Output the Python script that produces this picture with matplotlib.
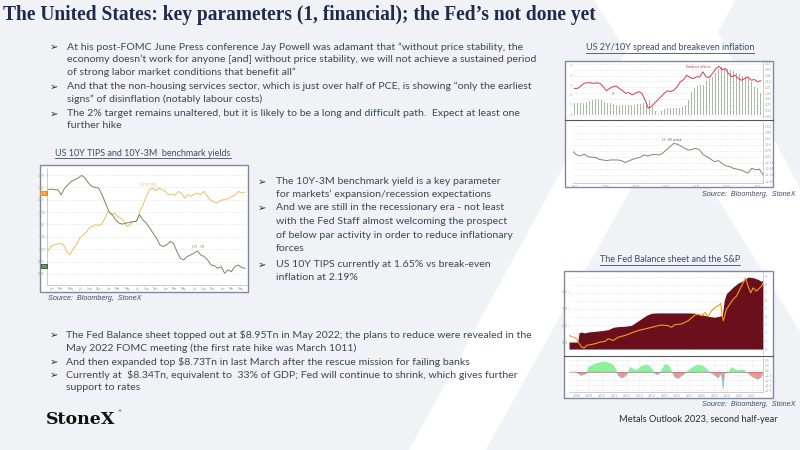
import numpy as np
import matplotlib.pyplot as plt
from matplotlib.patches import Polygon, Rectangle

W, H = 800, 450

# ---- left chart: US 10Y TIPS (orange) and 10Y-3M benchmark (green)
tips = [1.00, 1.15, 1.20, 1.22, 1.25, 1.20, 1.00, 0.90, 1.08, 1.20, 1.40, 1.48, 1.55, 1.70, 1.75, 1.80,
        1.78, 1.82, 2.00, 2.20, 2.10, 2.15, 2.05, 2.00, 1.90, 1.75, 1.82, 1.90, 1.92, 2.20, 2.40, 2.65,
        2.85, 2.90, 2.82, 2.90, 2.85, 2.80, 2.70, 2.72, 2.68, 2.80, 2.75, 2.60, 2.70, 2.65, 2.72, 2.75,
        2.70, 2.80, 2.68, 2.55, 2.50, 2.45, 2.50, 2.55, 2.55, 2.60, 2.65, 2.70, 2.80, 2.75, 2.78]
bench = [2.85, 2.87, 2.85, 2.85, 2.70, 2.90, 3.00, 3.10, 3.15, 3.20, 3.28, 3.20, 3.05, 2.95, 2.92, 2.90,
         2.70, 2.45, 2.20, 2.10, 1.95, 1.85, 1.82, 1.85, 1.87, 1.90, 1.90, 2.10, 1.95, 1.85, 1.70, 1.55,
         1.40, 1.20, 1.15, 1.20, 1.30, 1.25, 1.00, 0.80, 0.75, 0.85, 0.90, 0.95, 1.02, 0.90, 0.85, 0.75,
         0.60, 0.58, 0.50, 0.55, 0.35, 0.45, 0.40, 0.55, 0.60, 0.52, 0.50]
left_months = ['Jan', 'Mar', 'May', 'Jul', 'Sep', 'Nov', 'Jan', 'Mar', 'May', 'Jul', 'Sep', 'Nov',
               'Jan', 'Mar', 'May', 'Jul', 'Sep', 'Nov', 'Jan', 'Mar', 'May']

# ---- top right: breakeven inflation (line), 2Y (bars), 2Y-10Y spread (lower panel)
breakeven = [1.68, 1.68, 1.82, 1.98, 2.02, 2.02, 1.98, 2.02, 1.98, 1.78, 1.54, 1.68, 1.78, 1.82, 1.68,
             1.54, 1.39, 1.43, 1.29, 1.39, 1.49, 1.39, 0.99, 0.50, 0.60, 0.80, 0.99, 1.19, 1.39, 1.54,
             1.49, 1.58, 1.78, 2.08, 2.21, 2.47, 2.33, 2.27, 2.37, 2.37, 2.67, 2.37, 2.33, 2.57, 2.86,
             3.00, 2.80, 2.86, 2.57, 2.37, 2.47, 2.27, 2.17, 2.27, 2.37, 2.17, 2.21, 2.08, 2.14]
two_year = [1.17, 1.23, 1.17, 1.23, 1.30, 1.40, 1.50, 1.57, 1.60, 1.50, 1.33, 1.23, 1.17, 1.07, 0.97,
            0.93, 0.97, 0.97, 1.00, 1.03, 1.03, 1.07, 1.10, 1.17, 1.30, 1.50, 0.83, 0.33, 0.10, 0.33,
            0.57, 0.67, 0.70, 0.73, 0.67, 0.67, 0.77, 1.00, 1.50, 2.33, 2.67, 2.90, 2.97, 3.00, 3.40,
            3.57, 3.77, 4.17, 4.67, 4.83, 4.77, 4.67, 4.57, 4.43, 4.23, 4.10, 3.90, 3.77, 3.67, 3.33,
            2.77, 2.67, 2.23]
spread_2y10y = [0.63, 0.38, 0.30, 0.45, 0.25, 0.20, 0.20, 0.05, 0.00, -0.05, 0.00, 0.00, 0.00, -0.05,
                -0.20, -0.08, 0.05, 0.13, 0.20, 0.38, 0.30, 0.38, 0.43, 0.38, 0.50, 0.75, 1.00, 1.25,
                1.20, 1.05, 0.88, 0.75, 0.80, 0.88, 0.75, 0.38, 0.25, 0.05, -0.13, -0.05, -0.25, -0.45,
                -0.50, -0.63, -0.70, -0.75, -0.88, -1.00, -0.63, -0.75, -0.70, -1.13]
tr_years = ['2017', '2018', '2019', '2020', '2021', '2022', '2023']

# ---- bottom right: Fed balance sheet ($Tn, area), S&P 500 (line), lower oscillator
fed_year = [2007.90, 2008.59, 2008.70, 2008.86, 2009.17, 2009.44, 2009.97, 2010.50, 2011.03, 2011.43,
            2011.83, 2012.36, 2012.89, 2013.29, 2013.69, 2014.09, 2014.49, 2015.02, 2015.81, 2016.61,
            2017.41, 2017.94, 2018.47, 2019.00, 2019.53, 2020.06, 2020.14, 2020.28, 2020.46, 2020.73,
            2020.99, 2021.39, 2021.79, 2022.19, 2022.59, 2022.99, 2023.20, 2023.30, 2023.38]
fed_tn = [0.87, 0.87, 2.00, 2.12, 2.00, 2.12, 2.20, 2.29, 2.41, 2.70, 2.79, 2.83, 2.95, 3.37, 3.79,
          4.20, 4.45, 4.49, 4.49, 4.49, 4.49, 4.45, 4.28, 4.08, 3.95, 4.15, 4.20, 6.00, 6.90, 7.30,
          7.70, 8.20, 8.50, 8.95, 8.87, 8.66, 8.45, 8.53, 8.20]
spx_year = [2007.90, 2008.25, 2008.51, 2008.64, 2008.91, 2009.12, 2009.31, 2009.57, 2009.97, 2010.37,
            2010.77, 2011.03, 2011.43, 2011.83, 2012.36, 2012.89, 2013.42, 2013.96, 2014.49, 2015.02,
            2015.28, 2015.81, 2016.08, 2016.35, 2016.88, 2017.41, 2017.94, 2018.21, 2018.47, 2018.74,
            2019.00, 2019.27, 2019.53, 2019.80, 2020.01, 2020.12, 2020.22, 2020.46, 2020.73, 2020.99,
            2021.26, 2021.53, 2021.79, 2021.98, 2022.19, 2022.40, 2022.59, 2022.85, 2023.04, 2023.25,
            2023.38]
spx = [1415, 1318, 1222, 1028, 738, 680, 835, 873, 931, 1028, 1067, 1222, 1125, 1318, 1415, 1570,
       1705, 1802, 1898, 1995, 2034, 1995, 1898, 2053, 2092, 2285, 2614, 2672, 2575, 2769, 2537, 2865,
       3059, 3156, 3310, 2575, 2285, 2962, 3252, 3542, 3736, 4123, 4509, 4800, 4316, 3929, 4219, 4026,
       4161, 4316, 4509]
osc_year = [2008.43, 2008.64, 2008.86, 2009.04, 2009.31, 2009.36, 2009.44, 2009.71, 2009.97, 2010.24,
            2010.50, 2010.77, 2011.03, 2011.30, 2011.57, 2011.70, 2011.83, 2012.10, 2012.36, 2012.57,
            2012.76, 2013.03, 2013.29, 2013.56, 2013.82, 2014.09, 2014.35, 2014.62, 2014.75, 2015.02,
            2015.28, 2015.50, 2015.68, 2015.95, 2016.13, 2016.35, 2016.61, 2016.88, 2017.14, 2017.41,
            2017.67, 2017.94, 2018.21, 2018.47, 2018.74, 2019.00, 2019.27, 2019.53, 2019.80, 2020.06,
            2020.20, 2020.33, 2020.60, 2020.86, 2021.13, 2021.39, 2021.66, 2021.92, 2022.19, 2022.45,
            2022.72, 2022.99, 2023.25, 2023.38]
osc = [0.0, -0.5, -1.0, -0.8, -0.5, 0.0, 1.5, 2.0, 2.5, 2.8, 3.0, 3.2, 2.8, 2.5, 1.5, 0.5, -1.0, -1.8,
       -1.4, -0.5, 1.5, 1.0, 0.5, 1.5, 2.0, 2.2, 1.8, 0.5, -0.5, -0.8, 0.5, 2.0, 2.5, 1.5, 0.0, -1.5,
       -2.0, -1.2, -0.5, 0.5, 1.2, 1.8, 2.2, 2.0, 1.5, 0.5, -0.3, -1.0, -1.8, -0.5, -5.0, -0.3, -0.3,
       1.5, 0.8, 0.5, 0.8, 0.5, -0.3, -1.2, -1.8, -2.2, -1.5, -0.5]
br_years = ['2008', '2009', '2010', '2011', '2012', '2013', '2014', '2015', '2016', '2017',
            '2018', '2019', '2020', '2021', '2022']

# ---- slide text
title = "The United States: key parameters (1, financial); the Fed\u2019s not done yet"
top_lines = [
    (True, "At his post-FOMC June Press conference Jay Powell was adamant that \u201cwithout price stability, the"),
    (False, "economy doesn\u2019t work for anyone [and] without price stability, we will not achieve a sustained period"),
    (False, "of strong labor market conditions that benefit all\u201d"),
    (True, "And that the non-housing services sector, which is just over half of PCE, is showing \u201conly the earliest"),
    (False, "signs\u201d of disinflation (notably labour costs)"),
    (True, "The 2% target remains unaltered, but it is likely to be a long and difficult path.  Expect at least one"),
    (False, "further hike"),
]
mid_lines = [
    (True, "The 10Y-3M benchmark yield is a key parameter"),
    (False, "for markets\u2019 expansion/recession expectations"),
    (True, "And we are still in the recessionary era - not least"),
    (False, "with the Fed Staff almost welcoming the prospect"),
    (False, "of below par activity in order to reduce inflationary"),
    (False, "forces"),
    (True, "US 10Y TIPS currently at 1.65% vs break-even"),
    (False, "inflation at 2.19%"),
]
bot_lines = [
    (True, "The Fed Balance sheet topped out at $8.95Tn in May 2022; the plans to reduce were revealed in the"),
    (False, "May 2022 FOMC meeting (the first rate hike was March 1011)"),
    (True, "And then expanded top $8.73Tn in last March after the rescue mission for failing banks"),
    (True, "Currently at  $8.34Tn, equivalent to  33% of GDP; Fed will continue to shrink, which gives further"),
    (False, "support to rates"),
]

body_font = 'Lato'
body_col = '#3d4759'
navy = '#1f2b4d'

fig = plt.figure(figsize=(8, 4.5), dpi=100)
bg = fig.add_axes([0, 0, 1, 1])
bg.set_xlim(0, W)
bg.set_ylim(H, 0)
bg.axis('off')
bg.add_patch(Rectangle((0, 0), W, H, color='#f0f2f5', zorder=0))
# white strokes of the StoneX "X" watermark
bg.add_patch(Polygon([(410, 450), (485, 450), (735, 0), (655, 0)], color='white', zorder=0.5))
bg.add_patch(Polygon([(595, 0), (700, 0), (800, 190), (800, 330)], color='white', zorder=0.5))


def px_axes(x0, y0, x1, y1):
    a = fig.add_axes([x0 / W, 1 - y1 / H, (x1 - x0) / W, (y1 - y0) / H])
    a.set_zorder(2)
    return a


def style(ax, side='left', bottom=False):
    ax.set_facecolor('none')
    ax.set_axisbelow(True)
    for s in ax.spines.values():
        s.set_visible(False)
    on = [side, 'bottom'] if bottom else [side]
    for k in on:
        ax.spines[k].set_visible(True)
        ax.spines[k].set_color('#b8b8b8')
        ax.spines[k].set_linewidth(0.5)
    ax.tick_params(axis='both', labelsize=2.2, colors='#9a9a9a', length=1, width=0.3, pad=0.5)
    if side == 'right':
        ax.yaxis.tick_right()
    else:
        ax.yaxis.tick_left()
    ax.grid(axis='y', color='#d9d9d9', lw=0.4, ls=(0, (2, 2)))


def twin_left(ax):
    t = ax.twinx()
    t.set_zorder(1)
    t.set_facecolor('none')
    for s in t.spines.values():
        s.set_visible(False)
    t.yaxis.tick_left()
    t.tick_params(labelsize=1.8, colors='#9a9a9a', length=0.8, width=0.3, pad=0.3)
    return t


def frame(x0, y0, x1, y1):
    bg.add_patch(Rectangle((x0, y0), x1 - x0, y1 - y0, facecolor='white',
                           edgecolor='#7d88a3', lw=1.0, zorder=1))


def bullets(lines, ys, xa, xt, size=7.55):
    for (arrow, s), y in zip(lines, ys):
        if arrow:
            bg.text(xa, y, '\u27a2', fontsize=size - 0.3, family='DejaVu Sans', color='#2d2d2d',
                    va='center', ha='left', zorder=3)
        bg.text(xt, y, s, fontsize=size, family=body_font, color=body_col, va='center', ha='left', zorder=3)


underlined = []


def chart_title(x, y, s):
    t = bg.text(x, y, s, fontsize=6.5, family=body_font, color='#3f4b66', ha='center', va='center', zorder=3)
    underlined.append(t)


def source(x, y, s, ha='left'):
    bg.text(x, y, s, fontsize=5.2, family='Liberation Sans', style='italic', color='#3f4b66',
            ha=ha, va='center', zorder=3)


# title and text blocks
bg.text(3, 15, title, fontsize=14.05, family='Liberation Serif', weight='bold', color=navy,
        va='center', ha='left', zorder=3)
bullets(top_lines, [47, 59.5, 72, 86.5, 99, 113.5, 126], 50, 67)
bullets(mid_lines, [182, 194.5, 208, 222, 235, 248.5, 264.5, 278], 258, 276)
bullets(bot_lines, [335, 348, 362, 375, 388], 50, 66)
bg.text(46, 419, 'StoneX', fontsize=12.5, family='DejaVu Serif', weight='bold', color='#111111',
        va='center', ha='left', zorder=3)
bg.text(117, 411, '\u00ae', fontsize=3, color='#111111', va='center', ha='left', zorder=3)
bg.text(778, 419, 'Metals Outlook 2023, second half-year', fontsize=6.7, family=body_font,
        color='#2b2b2b', ha='right', va='center', zorder=3)

# ---- left chart
chart_title(143, 153, 'US 10Y TIPS and 10Y-3M  benchmark yields')
frame(40, 165, 248, 292)
source(48, 299, 'Source:  Bloomberg,  StoneX')
ax = px_axes(47, 168, 247, 285)
style(ax, 'left', bottom=True)
ax.plot(np.linspace(0, 1, len(tips)), tips, color='#f7b960', lw=0.7)
ax.plot(np.linspace(0, 1, len(bench)), bench, color='#6f8c5e', lw=0.7)
ax.set_xlim(-0.003, 1.01)
ax.set_ylim(0, 3.5)
ax.set_yticks(np.arange(0.33, 3.5, 0.37))
ax.set_xticks(np.linspace(0.02, 0.98, len(left_months)))
ax.set_xticklabels(left_months)
ax.text(0.47, 2.97, 'US 10Y TIPS', fontsize=2, color='#f7b55a')
ax.text(0.73, 1.12, '10Y - 3M', fontsize=2, color='#6f8c5e')
ax.text(-0.004, tips[-1] - 0.05, '%.2f' % tips[-1], fontsize=1.8, color='white', ha='right', va='center',
        bbox=dict(boxstyle='square,pad=0.3', fc='#e8901a', ec='none'))
ax.text(-0.004, bench[-1] + 0.05, '%.2f' % bench[-1], fontsize=1.8, color='white', ha='right', va='center',
        bbox=dict(boxstyle='square,pad=0.3', fc='#3d6b35', ec='none'))

# ---- top right chart
chart_title(670, 48, 'US 2Y/10Y spread and breakeven inflation')
frame(565, 61, 773, 187)
source(795, 195, 'Source:  Bloomberg,  StoneX', ha='right')
bg.plot([565, 773], [120, 120], color='#555555', lw=0.8, zorder=2)
ax1 = px_axes(573, 62, 763, 118)
ax1b = twin_left(ax1)
style(ax1, 'right')
xb = np.linspace(0, 1, len(two_year))
ax1b.bar(xb, two_year, width=0.45 / len(two_year), color='#a7b8a0', lw=0)
ax1b.set_ylim(-0.33, 5.33)
ax1b.set_xlim(-0.007, 1.012)
ax1.plot(np.linspace(0, 1, len(breakeven)), breakeven, color='#e0405a', lw=0.75)
ax1.set_ylim(-0.09, 3.26)
ax1.set_xlim(-0.007, 1.012)
ax1.set_xticks([])
ax1.set_yticks(np.arange(0.0, 3.3, 0.35))
ax1.text(0.6, 2.9, 'Breakeven inflation', fontsize=1.8, color='#c03040')
ax1.text(0.2, 1.3, '2Y', fontsize=1.8, color='#808080')

ax2 = px_axes(573, 122, 763, 183)
style(ax2, 'right', bottom=True)
ax2.plot(np.linspace(0, 1, len(spread_2y10y)), spread_2y10y, color='#8a7f78', lw=0.7)
ax2.set_xlim(0, 1)
ax2.set_ylim(-1.75, 2.88)
ax2.set_yticks(np.arange(-1.6, 2.9, 0.46))
ax2.set_xticks(np.linspace(0.01, 0.97, len(tr_years)))
ax2.set_xticklabels(tr_years)
ax2.text(0.47, 1.45, '2Y - 10Y spread', fontsize=1.8, color='#606060')

# ---- bottom right chart
chart_title(670, 260, 'The Fed Balance sheet and the S&P')
frame(564, 271, 773, 398)
source(795, 404, 'Source:  Bloomberg,  StoneX', ha='right')
bg.plot([564, 773], [356, 356], color='#555555', lw=0.8, zorder=2)
ax3 = px_axes(569, 272, 763, 354)
ax3b = twin_left(ax3)
style(ax3, 'right')
ax3.set_zorder(1)
ax3b.set_zorder(2)
ax3.fill_between(fed_year, 0, fed_tn, color='#6b0f1d', lw=0)
ax3.set_ylim(-0.62, 9.58)
ax3.set_xlim(2007.9, 2023.38)
ax3.set_xticks([])
ax3.set_yticks(np.arange(0, 9.6, 1.0))
ax3b.plot(spx_year, spx, color='#f59a1f', lw=0.8)
ax3b.set_ylim(327, 5153)
ax3b.set_xlim(2007.9, 2023.38)
ax3b.set_yticks([1000, 2000, 3000, 4000])

ax4 = px_axes(569, 357, 763, 392)
style(ax4, 'right', bottom=True)
ox = np.array(osc_year)
oy = np.array(osc)
ax4.fill_between(ox, 0, oy, where=oy >= 0, interpolate=True, color='#8ff09a', lw=0)
ax4.fill_between(ox, 0, oy, where=oy <= 0, interpolate=True, color='#f39292', lw=0)
ax4.plot(ox, np.minimum(oy, 0), color='#6fd8e0', lw=0.5)
ax4.axhline(0, color='#c06060', lw=0.4)
ax4.set_xlim(2007.9, 2023.38)
ax4.set_ylim(-6, 4.5)
ax4.set_yticks(np.arange(-5.5, 4.6, 1.5))
ax4.set_xticks(np.arange(2008.5, 2023.0, 1.0))
ax4.set_xticklabels(br_years)
ax4.grid(axis='x', color='#e3e3e3', lw=0.4, ls=(0, (2, 2)))

# underline the chart titles
fig.canvas.draw()
inv = bg.transData.inverted()
for t in underlined:
    bb = t.get_window_extent()
    (xa, ya), (xb2, yb) = inv.transform([(bb.x0, bb.y0), (bb.x1, bb.y1)])
    bg.plot([xa, xb2], [ya + 0.3, ya + 0.3], color='#3f4b66', lw=0.6, zorder=3)

fig.savefig('out.png', dpi=100)
